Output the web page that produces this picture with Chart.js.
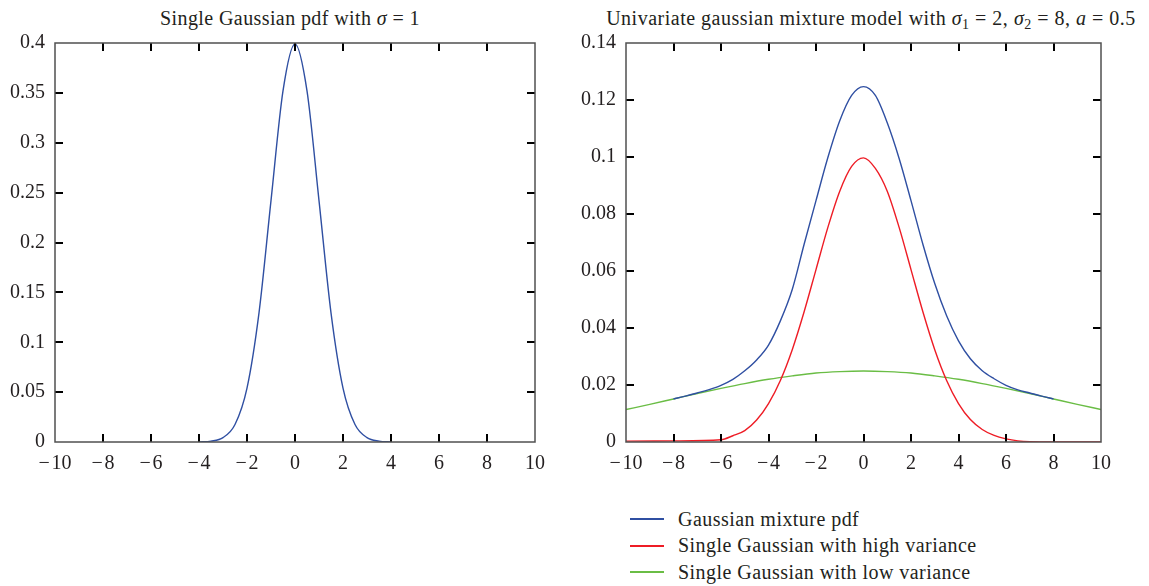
<!DOCTYPE html>
<html><head><meta charset="utf-8">
<script src="https://cdn.jsdelivr.net/npm/chart.js@4.4.1/dist/chart.umd.min.js"></script>
<style>
html,body{margin:0;padding:0;background:#fff;}
body{width:1149px;height:586px;position:relative;overflow:hidden;font-family:"Liberation Serif",serif;color:#231f20;}
.title{position:absolute;top:5px;font-size:20px;letter-spacing:0.4px;text-align:center;white-space:nowrap;line-height:26px;}
.title sub{font-size:0.7em;vertical-align:-0.3em;line-height:0;}
.chartbox{position:absolute;top:0;}
#legend{position:absolute;left:630px;top:506px;font-size:20px;letter-spacing:0.45px;}
.item{height:26.5px;display:flex;align-items:center;white-space:nowrap;}
.swatch{width:34px;height:0;border-top:2px solid;margin-right:14px;}
</style></head>
<body>
<div class="title" style="left:0;width:580px;">Single Gaussian pdf with <i>σ</i> = 1</div>
<div class="title" style="left:596px;width:550px;letter-spacing:0.5px;">Univariate gaussian mixture model with <i>σ</i><sub>1</sub> = 2, <i>σ</i><sub>2</sub> = 8, <i>a</i> = 0.5</div>
<div class="chartbox" style="left:0;"><canvas id="left" width="575" height="500"></canvas></div>
<div class="chartbox" style="left:575px;"><canvas id="right" width="574" height="500"></canvas></div>
<div id="legend"></div>
<script>
// ---- data ----
const xTickValues = [-10,-8,-6,-4,-2,0,2,4,6,8,10];
const leftYTickValues = [0,0.05,0.1,0.15,0.2,0.25,0.3,0.35,0.4];
const rightYTickValues = [0,0.02,0.04,0.06,0.08,0.1,0.12,0.14];

const singleX = [-4,-3.5,-3,-2.5,-2,-1.5,-1,-0.5,0,0.5,1,1.5,2,2.5,3,3.5,4];
const singleY = [0.0001,0.0009,0.0044,0.0175,0.054,0.1295,0.242,0.352,0.399,0.352,0.242,0.1295,0.054,0.0175,0.0044,0.0009,0.0001];

const mixX = [-8,-7.5,-7,-6.5,-6,-5.5,-5,-4.5,-4,-3.5,-3,-2.5,-2,-1.5,-1,-0.5,0,0.5,1,1.5,2,2.5,3,3.5,4,4.5,5,5.5,6,6.5,7,7.5,8];
const mixY = [0.0151,0.0161,0.0172,0.0184,0.0199,0.0220,0.0250,0.0288,0.0340,0.0425,0.0535,0.0694,0.0847,0.0998,0.1127,0.1216,0.1247,0.1216,0.1120,0.0995,0.0847,0.0694,0.0556,0.0443,0.0355,0.0292,0.0250,0.0222,0.0199,0.0183,0.0172,0.0161,0.0151];

const highX = [-10,-8,-6,-5.5,-5,-4.5,-4,-3.5,-3,-2.5,-2,-1.5,-1,-0.5,0,0.5,1,1.5,2,2.5,3,3.5,4,4.5,5,5.5,6,6.5,7,8,10];
const highY = [0.0003,0.0004,0.0008,0.0022,0.0040,0.0077,0.0135,0.0216,0.0324,0.0457,0.0605,0.0753,0.0880,0.0967,0.0997,0.0960,0.0880,0.0753,0.0605,0.0457,0.0324,0.0216,0.0135,0.0079,0.0044,0.0023,0.0011,0.0004,0.0001,0,0];

const lowX = [-10,-9,-8,-7,-6,-5,-4,-3,-2,-1,0,1,2,3,4,5,6,7,8,9,10];
const lowY = [0.0114,0.0132,0.0151,0.0170,0.0188,0.0205,0.0220,0.0232,0.0242,0.0247,0.0249,0.0247,0.0242,0.0232,0.0220,0.0205,0.0188,0.0170,0.0151,0.0132,0.0114];

const seriesNames = ['Gaussian mixture pdf','Single Gaussian with high variance','Single Gaussian with low variance'];
const seriesColors = ['#2f4fa2','#ee1c25','#6abd45'];
const singleColor = '#2f4fa2';

// ---- helpers ----
const pts = (xs, ys) => xs.map((x, i) => ({x: x, y: ys[i]}));
const fmt = v => v < 0 ? '\u2212\u200a' + Math.abs(v) : String(v);
const font = {family: '"Liberation Serif", serif', size: 20};
const textColor = '#231f20';

const frameTicks = {
  id: 'frameTicks',
  afterDatasetsDraw(chart) {
    const ctx = chart.ctx, a = chart.chartArea, xs = chart.scales.x, ys = chart.scales.y;
    const L = 8;
    ctx.save();
    ctx.strokeStyle = '#000';
    ctx.lineWidth = 2;
    ctx.beginPath();
    xs.ticks.forEach(t => {
      const p = Math.round(xs.getPixelForValue(t.value));
      if (p <= a.left + 1 || p >= a.right - 1) return;
      ctx.moveTo(p, a.bottom); ctx.lineTo(p, a.bottom - L);
      ctx.moveTo(p, a.top); ctx.lineTo(p, a.top + L);
    });
    ys.ticks.forEach(t => {
      const p = Math.round(ys.getPixelForValue(t.value));
      if (p <= a.top + 1 || p >= a.bottom - 1) return;
      ctx.moveTo(a.left, p); ctx.lineTo(a.left + L, p);
      ctx.moveTo(a.right, p); ctx.lineTo(a.right - L, p);
    });
    ctx.stroke();
    ctx.strokeStyle = '#505050';
    ctx.lineWidth = 1.5;
    ctx.strokeRect(a.left, a.top, a.right - a.left, a.bottom - a.top);
    ctx.restore();
  }
};

function scales(yTicks, yMax, yWidth) {
  return {
    x: {
      type: 'linear', min: -10, max: 10,
      grid: {display: false, drawTicks: false}, border: {display: false},
      afterBuildTicks: s => { s.ticks = xTickValues.map(v => ({value: v})); },
      ticks: {padding: 10, font: font, color: textColor, callback: fmt, maxRotation: 0, autoSkip: false},
      afterFit: s => { s.height = 30; s.paddingLeft = 0; s.paddingRight = 0; }
    },
    y: {
      type: 'linear', min: 0, max: yMax,
      grid: {display: false, drawTicks: false}, border: {display: false},
      afterBuildTicks: s => { s.ticks = yTicks.map(v => ({value: v})); },
      ticks: {padding: 10, font: font, color: textColor, callback: v => String(v), autoSkip: false},
      afterFit: s => { s.width = yWidth; s.paddingTop = 0; s.paddingBottom = 0; }
    }
  };
}

const lineDs = (label, data, color) => ({
  label: label, data: data, borderColor: color, backgroundColor: color,
  borderWidth: 1.4, pointRadius: 0, cubicInterpolationMode: 'monotone', fill: false
});

new Chart(document.getElementById('left'), {
  type: 'line',
  data: {datasets: [lineDs('Single Gaussian pdf', pts(singleX, singleY), singleColor)]},
  options: {
    responsive: false, animation: false, devicePixelRatio: 1,
    layout: {padding: {left: 0, top: 43, right: 40, bottom: 28}},
    plugins: {legend: {display: false}, tooltip: {enabled: false}, title: {display: false}},
    scales: scales(leftYTickValues, 0.4, 55)
  },
  plugins: [frameTicks]
});

new Chart(document.getElementById('right'), {
  type: 'line',
  data: {datasets: [
    lineDs(seriesNames[0], pts(mixX, mixY), seriesColors[0]),
    lineDs(seriesNames[1], pts(highX, highY), seriesColors[1]),
    lineDs(seriesNames[2], pts(lowX, lowY), seriesColors[2])
  ]},
  options: {
    responsive: false, animation: false, devicePixelRatio: 1,
    layout: {padding: {left: 0, top: 43, right: 48, bottom: 28}},
    plugins: {legend: {display: false}, tooltip: {enabled: false}, title: {display: false}},
    scales: scales(rightYTickValues, 0.14, 51)
  },
  plugins: [frameTicks]
});

// legend
const lg = document.getElementById('legend');
seriesNames.forEach((n, i) => {
  const d = document.createElement('div'); d.className = 'item';
  const s = document.createElement('span'); s.className = 'swatch'; s.style.borderColor = seriesColors[i];
  d.appendChild(s); d.appendChild(document.createTextNode(n));
  lg.appendChild(d);
});
</script>
</body></html>
